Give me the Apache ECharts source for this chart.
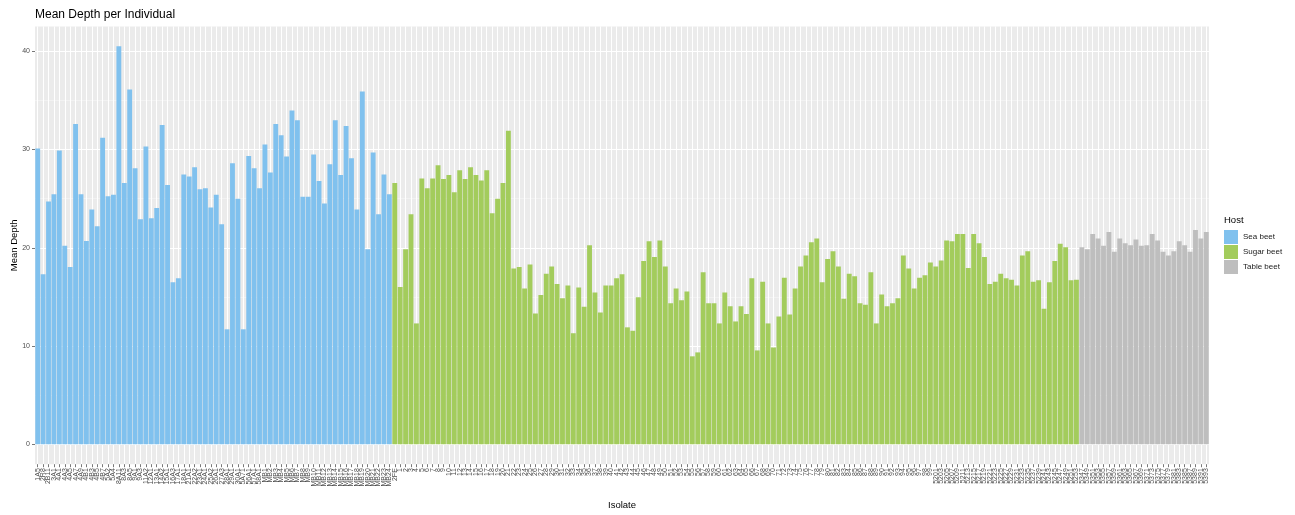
<!DOCTYPE html>
<html>
<head>
<meta charset="utf-8">
<script src="https://cdn.jsdelivr.net/npm/echarts@6/dist/echarts.min.js"></script>
<style>
  html, body { margin: 0; padding: 0; background: #fff; }
  #chart { width: 1295px; height: 515px; }
</style>
</head>
<body>
<div id="chart"></div>
<script>
// Isolate labels per host (labels are not legible in the reference; approximated)
const seaLabels = [
  "1A5","2R8","2B11","3A1","4A1","4A3","4A5","4A7","4A9","4B1",
  "4B3","4B5","4B7","5A2","5A4","8A11","8A3","8A5","9A1","9A3",
  "11A2","12A1","13A1","14A2","15A1","16A3","17A1","18A1","21A1","22A2",
  "23A1","24A1","25A2","26A1","27A3","28A1","29A1","30A1","5A71","56A1",
  "57A1","58A1","MB1","MB2","MB3","MB4","MB5","MB6","MB7","MB8",
  "MB9","MB10","MB11","MB12","MB13","MB14","MB15","MB16","MB17","MB18",
  "MB19","MB20","MB21","MB22","MB23","MB24"
];
const sugarLabels = [
  "2FE","1","2","3","4","5","6","7","8","9","10","11","12","13","14","15","16","17","18","19",
  "20","21","22","23","24","25","26","27","28","29","30","31","32","33","34","35","36","37","38","39",
  "40","41","42","43","44","45","46","47","48","49","50","51","52","53","54","55","56","57","58","59",
  "60","61","62","63","64","65","66","67","68","69","70","71","72","73","74","75","76","77","78","79",
  "80","81","82","83","84","85","86","87","88","89","90","91","92","93","94","95","96","97","98","99",
  "5201","5203","5205","5207","5209","5211","5213","5215","5217","5219","5221","5223","5225","5227","5229","5231","5233","5235","5237","5239",
  "5241","5243","5245","5247","5249","5251","5253"
];
const tableLabels = [
  "5347","5349","5351","5353","5355","5357","5359","5361","5363","5365","5367","5369",
  "5371","5373","5375","5377","5379","5381","5383","5385","5387","5389","5391","5393"
];

// Mean depth values per host
const seaVals = [
  30.1, 17.3, 24.7, 25.45, 29.9, 20.2, 18.05, 32.6, 25.45, 20.7,
  23.9, 22.2, 31.2, 25.25, 25.4, 40.5, 26.6, 36.1, 28.1, 22.9,
  30.3, 23.0, 24.05, 32.5, 26.4, 16.5, 16.9, 27.45, 27.25, 28.2,
  25.96, 26.06, 24.1, 25.4, 22.4, 11.7, 28.6, 25.0, 11.7, 29.35,
  28.1, 26.06, 30.5, 27.65, 32.6, 31.45, 29.3, 33.97, 32.98, 25.2,
  25.2, 29.5, 26.8, 24.5, 28.5, 32.98, 27.4, 32.4, 29.1, 23.9,
  35.9, 19.85, 29.7, 23.4, 27.45, 25.45
];
const sugarVals = [
  26.6, 16.0, 19.85, 23.4, 12.3, 27.05, 26.06, 27.05, 28.4, 27.0,
  27.4, 25.65, 27.9, 27.0, 28.2, 27.4, 26.85, 27.9, 23.5, 25.0,
  26.6, 31.9, 17.9, 18.05, 15.85, 18.3, 13.3, 15.2, 17.35, 18.1,
  16.3, 14.85, 16.15, 11.3, 15.95, 14.0, 20.25, 15.45, 13.4, 16.15,
  16.15, 16.9, 17.3, 11.9, 11.55, 14.95, 18.65, 20.65, 19.05, 20.75,
  18.1, 14.35, 15.85, 14.65, 15.55, 8.95, 9.35, 17.5, 14.35, 14.35,
  12.3, 15.45, 14.05, 12.5, 14.05, 13.25, 16.9, 9.55, 16.55, 12.3,
  9.85, 13.0, 16.95, 13.2, 15.85, 18.1, 19.2, 20.55, 20.95, 16.5,
  18.85, 19.65, 18.1, 14.8, 17.35, 17.1, 14.35, 14.2, 17.5, 12.3,
  15.25, 14.05, 14.35, 14.85, 19.2, 17.9, 15.85, 16.95, 17.2, 18.5,
  18.1, 18.7, 20.75, 20.65, 21.4, 21.4, 17.95, 21.4, 20.45, 19.05,
  16.3, 16.55, 17.35, 16.9, 16.75, 16.15, 19.2, 19.65, 16.55, 16.7,
  13.8, 16.5, 18.65, 20.4, 20.05, 16.7, 16.75
];
const tableVals = [
  20.05, 19.85, 21.4, 20.95, 20.2, 21.6, 19.6, 20.95, 20.45, 20.25,
  20.85, 20.2, 20.25, 21.4, 20.75, 19.6, 19.2, 19.65, 20.65, 20.25,
  19.6, 21.8, 20.95, 21.6
];

const yTicks = [0, 10, 20, 30, 40];
const yMinorTicks = [5, 15, 25, 35];
const hosts = ["Sea beet", "Sugar beet", "Table beet"];
const hostColors = ["#80C1EE", "#A3CC5C", "#BEBEBE"];

const categories = seaLabels.concat(sugarLabels, tableLabels);
const blank = arr => arr.map(() => '-');
const seriesData = [
  seaVals.concat(blank(sugarVals), blank(tableVals)),
  blank(seaVals).concat(sugarVals, blank(tableVals)),
  blank(seaVals).concat(blank(sugarVals), tableVals)
];

const FONT = "'Liberation Sans', Arial, Helvetica, sans-serif";
const yMin = -2.03, yMax = 42.53;

const chart = echarts.init(document.getElementById('chart'), null, { renderer: 'canvas' });
chart.setOption({
  animation: false,
  backgroundColor: '#ffffff',
  textStyle: { fontFamily: FONT },
  title: [
    { text: 'Mean Depth per Individual', left: 35, top: 9, padding: 0,
      textStyle: { fontSize: 12, fontWeight: 'normal', color: '#000', fontFamily: FONT } },
    { text: 'Host', left: 1224, top: 215, padding: 0,
      textStyle: { fontSize: 9.5, fontWeight: 'normal', color: '#000', fontFamily: FONT } }
  ],
  legend: {
    orient: 'vertical', left: 1224, top: 230, padding: 0,
    itemWidth: 14, itemHeight: 14, itemGap: 1, icon: 'rect',
    data: hosts,
    textStyle: { fontSize: 8, color: '#1a1a1a', fontFamily: FONT }
  },
  grid: {
    left: 35, right: 86, top: 26.4, bottom: 50.8,
    outerBoundsMode: 'none',
    show: true, backgroundColor: '#EBEBEB', borderWidth: 0, containLabel: false
  },
  xAxis: {
    type: 'category', data: categories, boundaryGap: true,
    name: 'Isolate', nameLocation: 'middle', nameGap: 36, nameMoveOverlap: false,
    nameTextStyle: { fontSize: 9.5, color: '#000', fontFamily: FONT },
    axisLine: { show: false, onZero: false },
    axisTick: { show: true, interval: 0, alignWithLabel: true, length: 3, lineStyle: { color: '#555', width: 0.8 } },
    axisLabel: { interval: 0, rotate: 90, fontSize: 7, color: '#4D4D4D', margin: 4, fontFamily: FONT },
    splitLine: { show: true, interval: 0, alignWithLabel: true, lineStyle: { color: '#ffffff', width: 1 } }
  },
  yAxis: [
    {
      type: 'value', min: yMin, max: yMax,
      name: 'Mean Depth', nameLocation: 'middle', nameGap: 16, nameMoveOverlap: false,
      nameTextStyle: { fontSize: 9.5, color: '#000', fontFamily: FONT },
      axisLine: { show: false },
      axisTick: { show: true, length: 3, customValues: yTicks, lineStyle: { color: '#555', width: 0.8 } },
      axisLabel: { customValues: yTicks, fontSize: 7, color: '#4D4D4D', margin: 5, fontFamily: FONT },
      splitLine: { show: true, lineStyle: { color: '#ffffff', width: 1 } }
    },
    {
      type: 'value', min: yMin, max: yMax, position: 'left',
      axisLine: { show: false },
      axisTick: { show: false, customValues: yMinorTicks },
      axisLabel: { show: false, customValues: yMinorTicks },
      splitLine: { show: true, lineStyle: { color: '#F7F7F7', width: 0.6 } }
    }
  ],
  series: hosts.map((h, i) => ({
    name: h, type: 'bar', data: seriesData[i],
    barGap: '-100%', barCategoryGap: '10%',
    itemStyle: { color: hostColors[i] },
    emphasis: { disabled: true }
  }))
});
</script>
</body>
</html>
